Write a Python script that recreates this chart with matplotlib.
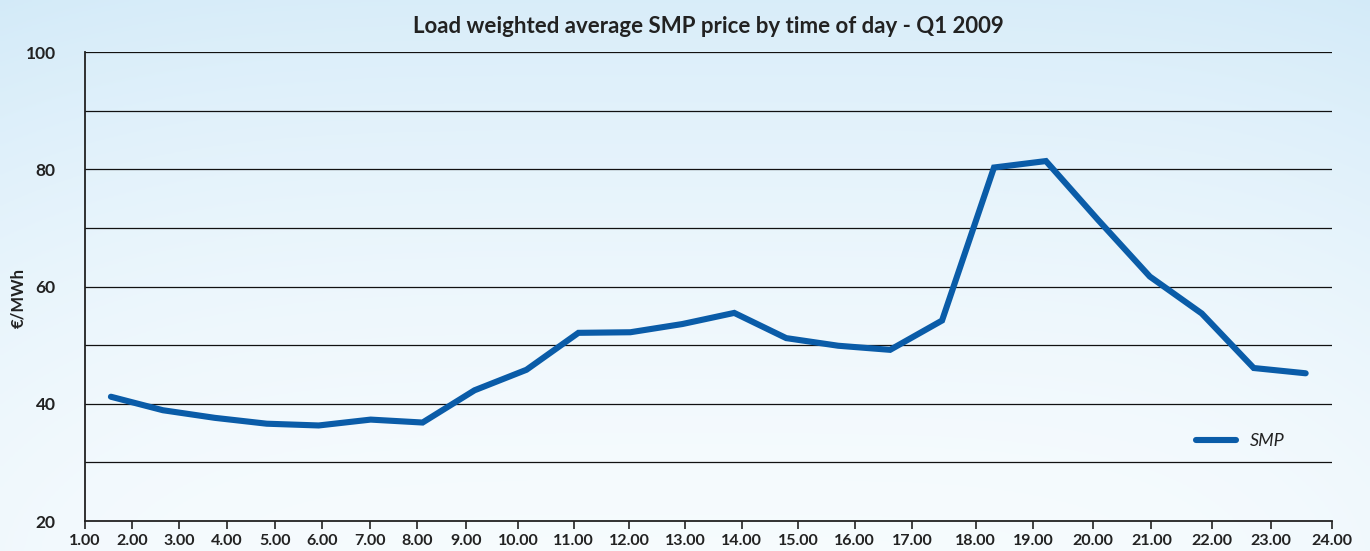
import numpy as np
import matplotlib
matplotlib.use('Agg')
import matplotlib.pyplot as plt

plt.rcParams['font.family'] = ['Lato', 'DejaVu Sans']

# hourly load weighted SMP, Q1 2009 (EUR/MWh)
hours = list(range(1, 25))
smp = [41.2, 38.9, 37.6, 36.6, 36.3, 37.3, 36.8, 42.3, 45.8, 52.1, 52.2, 53.6,
       55.5, 51.2, 49.9, 49.2, 54.2, 80.3, 81.4, 71.4, 61.7, 55.4, 46.1, 45.2]
tick_labels = ['%d.00' % h for h in range(1, 25)]
# the hour labels in the original are not evenly spread along the axis
tick_pos = [0, 0.90, 1.81, 2.73, 3.66, 4.57, 5.48, 6.40, 7.34, 8.34, 9.41, 10.48,
            11.56, 12.64, 13.73, 14.82, 15.93, 17.15, 18.26, 19.40, 20.53, 21.69, 22.83, 24.0]
y_labels = [20, 40, 60, 80, 100]

fig = plt.figure(figsize=(13.7, 5.51), dpi=100)

# pale blue background, lighter towards the bottom
bg = fig.add_axes([0, 0, 1, 1], zorder=-10)
yy = np.linspace(0, 1, 200)[:, None]
xx = np.linspace(-1, 1, 300)[None, :]
top = np.array([0.83, 0.92, 0.975])
low = np.array([0.965, 0.985, 0.995])
mix = np.clip(yy ** 1.6 * 0.85 + np.abs(xx) ** 4 * 0.15, 0, 1)
img = low[None, None, :] * (1 - mix[..., None]) + top[None, None, :] * mix[..., None]
bg.imshow(img, aspect='auto', origin='lower', extent=[0, 1, 0, 1])
bg.axis('off')

ax = fig.add_axes([0.062, 0.0544, 0.910, 0.8512])
ax.patch.set_alpha(0)

x = np.arange(len(hours)) + 0.5
ax.plot(x, smp, color='#0a5ca8', lw=4.4, solid_capstyle='round',
        solid_joinstyle='miter', label='SMP', zorder=3)

ax.set_xlim(0, 24)
ax.set_ylim(20, 100)
ax.set_yticks(y_labels)
ax.set_yticklabels([str(v) for v in y_labels], fontsize=12.5, fontweight='bold', color='#222222')
ax.tick_params(axis='y', which='both', length=0, pad=21)
for v in range(30, 101, 10):
    ax.axhline(v, color='#111111', lw=0.9, zorder=1)

ax.set_xticks(tick_pos)
ax.set_xticklabels(tick_labels, fontsize=11.5, fontweight='bold', color='#222222')
ax.tick_params(axis='x', direction='out', length=6, width=1.2, color='#222222', pad=3)

for s in ['top', 'right']:
    ax.spines[s].set_visible(False)
for s in ['left', 'bottom']:
    ax.spines[s].set_color('#222222')
    ax.spines[s].set_linewidth(1.3)

ax.set_ylabel('€/MWh', fontsize=12, fontweight='bold', color='#222222')
ax.yaxis.set_label_coords(-0.047, 0.475)
ax.set_title('Load weighted average SMP price by time of day - Q1 2009',
             fontsize=16, fontweight='bold', color='#222222', pad=14)

leg = ax.legend(loc='center left', bbox_to_anchor=(0.878, 0.17), frameon=False,
                handlelength=2.2, fontsize=13)
for t in leg.get_texts():
    t.set_fontstyle('italic')
    t.set_color('#222222')

fig.savefig('out.png', dpi=100)
